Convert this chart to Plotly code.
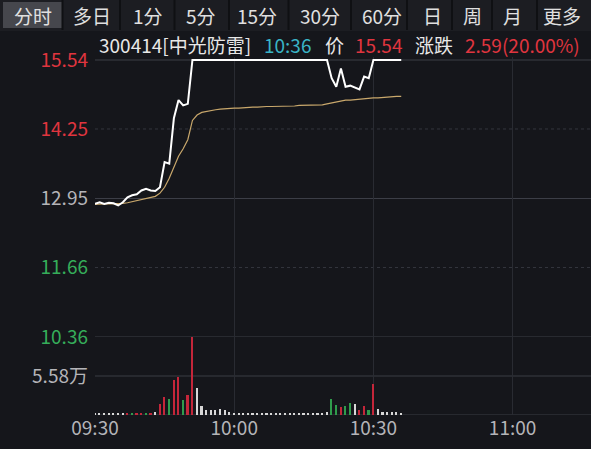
import plotly.graph_objects as go

# ---------------- data ----------------
minutes = list(range(67))  # minutes since 09:30
price = [12.85, 12.88, 12.85, 12.87, 12.86, 12.82, 12.88, 12.97, 13.01, 13.03,
         13.10, 13.13, 13.10, 13.09, 13.16, 13.63, 13.60, 14.45, 14.79, 14.69,
         14.72] + [15.54] * 30 + [15.20, 15.04, 15.38, 15.04, 15.06, 15.02, 14.99,
                                  15.23, 15.20] + [15.54] * 7
avg_price = [12.84, 12.85, 12.85, 12.85, 12.85, 12.85, 12.86, 12.87, 12.89, 12.91,
             12.93, 12.95, 12.97, 12.99, 13.05, 13.16, 13.33, 13.55, 13.74, 13.88,
             14.05, 14.41, 14.51, 14.56, 14.58, 14.60, 14.61, 14.62, 14.63, 14.63,
             14.64, 14.64, 14.65, 14.66, 14.66, 14.66, 14.67, 14.67, 14.67, 14.67,
             14.68, 14.68, 14.68, 14.68, 14.69, 14.69, 14.69, 14.69, 14.70, 14.70,
             14.72, 14.74, 14.76, 14.77, 14.79, 14.79, 14.80, 14.80, 14.81, 14.83,
             14.83, 14.83, 14.84, 14.84, 14.86, 14.86, 14.86]
volume_wan = [0.25, 0.2, 0.2, 0.25, 0.2, 0.2, 0.25, 0.2, 0.3, 0.25, 0.3, 0.3, 0.25, 0.4,
              1.6, 2.6, 2.3, 5.0, 5.4, 2.2, 2.9, 11.1, 3.8, 1.3, 0.75, 0.7, 0.75, 0.8,
              0.75, 0.4, 0.35, 0.35, 0.3,
              0.35, 0.3, 0.3, 0.35, 0.3, 0.3, 0.35, 0.3, 0.3, 0.3, 0.35, 0.3, 0.3, 0.3,
              0.35, 0.3, 0.3, 0.4,
              2.25, 1.4, 1.2, 1.3, 1.65, 1.6, 0.7, 1.3, 0.7, 4.5, 0.8, 0.4, 0.4, 0.4,
              0.4, 0.35]
vol_dir = (['f'] * 7 + ['u', 'd', 'u', 'u', 'd', 'u', 'f'] +
           ['u', 'u', 'd', 'u', 'u', 'd', 'u', 'u'] + ['f'] * 29 +
           ['d', 'd', 'u', 'd', 'd', 'f', 'u', 'u', 'd', 'u'] + ['f'] * 6)

prev_close = 12.95
price_ticks = [15.54, 14.25, 12.95, 11.66, 10.36]
price_tick_kind = ['up', 'up', 'flat', 'down', 'down']
price_line_dash = ['solid', 'dot', 'solid', 'dot', 'solid']
vol_ticks = [5.58]
vol_tick_labels = ['5.58万']
vol_max = 11.16
time_ticks = [0, 30, 60, 90]
time_labels = ['09:30', '10:00', '10:30', '11:00']
tabs = ['分时', '多日', '1分', '5分', '15分', '30分', '60分', '日', '周', '月', '更多']

header_parts = [('300414[中光防雷]', 'text'), ('10:36', 'time'), ('价', 'text'),
                ('15.54', 'up'), ('涨跌', 'text'), ('2.59(20.00%)', 'up')]

# ---------------- styles ----------------
BG = '#15161b'
RED = '#e0353f'
GREEN = '#35ad5a'
GREY = '#b4b4b8'
WHITE = '#e8e8e8'
CYAN = '#3ab4c6'
GRID = '#34363e'
FONT = 'Noto Sans CJK SC'
kind_color = {'up': RED, 'down': GREEN, 'flat': GREY, 'text': WHITE, 'time': CYAN}
bar_color = {'u': '#c4263a', 'd': '#2f9c4c', 'f': '#d8d8d8'}

W, H = 591, 449
L, T, B = 95, 57, 34
PLOT_H = H - T - B
PLOT_W = W - L
VOL_FRAC = 78 / PLOT_H


def px_x(x):
    return (x - L) / PLOT_W


def px_y(y):
    return (H - B - y) / PLOT_H


fig = go.Figure()

fig.add_trace(go.Bar(x=minutes, y=volume_wan, yaxis='y2', width=0.36,
                     marker=dict(color=[bar_color[d] for d in vol_dir], line_width=0),
                     showlegend=False, hoverinfo='skip'))
fig.add_trace(go.Scatter(x=minutes, y=avg_price, mode='lines',
                         line=dict(color='#c9a86c', width=1.2),
                         showlegend=False, hoverinfo='skip'))
fig.add_trace(go.Scatter(x=minutes, y=price, mode='lines',
                         line=dict(color='#ffffff', width=2),
                         showlegend=False, hoverinfo='skip'))

price_range_top = 15.54 + 3 * (15.54 - 10.36) / 277

shapes = []
# price gridlines
for v, dash in zip(price_ticks, price_line_dash):
    shapes.append(dict(type='line', xref='paper', x0=0, x1=1, yref='y', y0=v, y1=v,
                       line=dict(color=GRID if dash == 'dot' else '#3c3e47', width=1,
                                 dash=dash), layer='below'))
# volume gridlines
for v in vol_ticks + [0]:
    shapes.append(dict(type='line', xref='paper', x0=0, x1=1, yref='y2', y0=v, y1=v,
                       line=dict(color='#3a3c44', width=1), layer='below'))

# tab bar
shapes.append(dict(type='rect', xref='paper', yref='paper', x0=px_x(0), x1=px_x(W),
                   y0=px_y(31), y1=px_y(0), fillcolor='#1c1d22', line_width=0, layer='below'))
shapes.append(dict(type='rect', xref='paper', yref='paper', x0=px_x(3), x1=px_x(62),
                   y0=px_y(28), y1=px_y(2), fillcolor='#46474d', line_width=0, layer='below'))
tab_centers = [33, 92, 148, 201, 257, 320, 382, 432, 472, 512, 562]
for a, b in zip(tab_centers[:-1], tab_centers[1:]):
    m = (a + b) / 2
    shapes.append(dict(type='line', xref='paper', yref='paper', x0=px_x(m), x1=px_x(m),
                       y0=px_y(30), y1=px_y(0), line=dict(color='#0f1013', width=2)))

annotations = []
for name, cx in zip(tabs, tab_centers):
    annotations.append(dict(text=name, xref='paper', yref='paper', x=px_x(cx), y=px_y(15),
                            showarrow=False, xanchor='center', yanchor='middle',
                            font=dict(family=FONT, size=19, color='#e0e0e0')))

header_x = [97, 262, 323, 353, 413, 463]
for (txt, kind), hx in zip(header_parts, header_x):
    annotations.append(dict(text=txt, xref='paper', yref='paper', x=px_x(hx), y=px_y(45),
                            showarrow=False, xanchor='left', yanchor='middle',
                            font=dict(family=FONT, size=19, color=kind_color[kind])))

price_ticktext = ['<span style="color:%s">%.2f</span>' % (kind_color[k], v)
                  for v, k in zip(price_ticks, price_tick_kind)]

fig.update_layout(
    width=W, height=H,
    margin=dict(l=L, r=0, t=T, b=B, pad=0),
    paper_bgcolor=BG, plot_bgcolor=BG,
    font=dict(family=FONT, size=19, color=GREY),
    bargap=0,
    xaxis=dict(range=[0, PLOT_W / 4.64], tickvals=time_ticks, ticktext=time_labels,
               showgrid=True, gridcolor='#292b32', gridwidth=1, zeroline=False,
               showline=False, ticks='', anchor='y2',
               tickfont=dict(family=FONT, size=19, color=GREY), fixedrange=True),
    yaxis=dict(domain=[VOL_FRAC, 1], range=[10.36, price_range_top],
               tickvals=price_ticks, ticktext=price_ticktext, showgrid=False,
               zeroline=False, showline=False, ticks='', ticklabelstandoff=6,
               tickfont=dict(family=FONT, size=19)),
    yaxis2=dict(domain=[0, VOL_FRAC], range=[0, vol_max], tickvals=vol_ticks,
                ticktext=vol_tick_labels, showgrid=False, zeroline=False,
                showline=False, ticks='', ticklabelstandoff=6,
                tickfont=dict(family=FONT, size=19, color=GREY)),
    shapes=shapes,
    annotations=annotations,
)

fig.write_html('out.html', config={'displayModeBar': False},
               post_script="document.body.style.margin='0';document.body.style.overflow='hidden';"
                           "document.body.style.background='%s';" % BG)
